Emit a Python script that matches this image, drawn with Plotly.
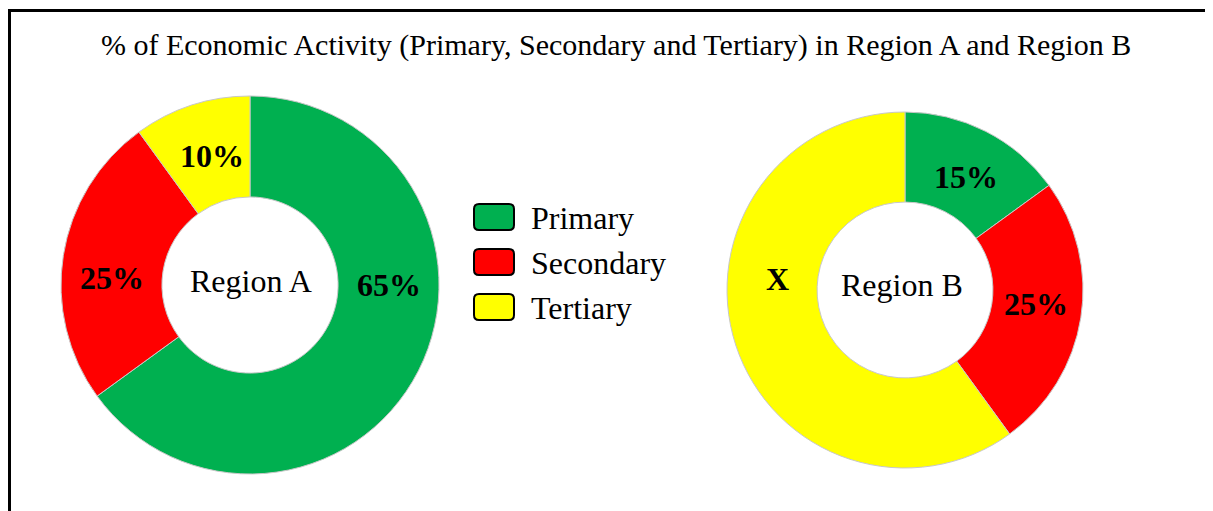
import plotly.graph_objects as go

# page body has an 8px margin; figure is sized and offset so coordinates map to window pixels
OFF = 8
W, H = 1213 - OFF, 511 - OFF

categories = ["Primary", "Secondary", "Tertiary"]
colors = ["#00B050", "#FF0000", "#FFFF00"]
region_a_values = [65, 25, 10]
region_b_values = [15, 25, 60]
region_a_labels = ["65%", "25%", "10%"]
region_b_labels = ["15%", "25%", "X"]
title_text = "% of Economic Activity (Primary, Secondary and Tertiary) in Region A and Region B"

FONT = "Liberation Serif, Times New Roman, serif"

def px_x(x):
    return (x - OFF) / W

def px_y(y):
    return 1 - (y - OFF) / H

fig = go.Figure()

# Region A donut: center (250,285), radius 189
fig.add_trace(go.Pie(
    labels=categories, values=region_a_values, sort=False, direction="clockwise",
    rotation=0, hole=0.466, textinfo="none", hoverinfo="label+percent",
    marker=dict(colors=colors, line=dict(color="#c8c8c8", width=1)),
    domain=dict(x=[px_x(61), px_x(439)], y=[px_y(474), px_y(96)]),
    showlegend=False,
))
# Region B donut: center (905,290), radius 178
fig.add_trace(go.Pie(
    labels=categories, values=region_b_values, sort=False, direction="clockwise",
    rotation=0, hole=0.494, textinfo="none", hoverinfo="label+percent",
    marker=dict(colors=colors, line=dict(color="#c8c8c8", width=1)),
    domain=dict(x=[px_x(727), px_x(1083)], y=[px_y(468), px_y(112)]),
    showlegend=False,
))

annotations = []
def ann(text, x, y, size, bold=False, xanchor="center"):
    annotations.append(dict(
        text=f"<b>{text}</b>" if bold else text, x=px_x(x), y=px_y(y),
        xref="paper", yref="paper", xanchor=xanchor, yanchor="middle",
        showarrow=False, font=dict(family=FONT, size=size, color="black"),
    ))

ann(title_text, 616, 45, 30)
ann("Region A", 251, 281, 32)
ann("Region B", 902, 285, 32)

label_pos_a = [(389, 285), (112, 278), (212, 156)]
for t, (x, y) in zip(region_a_labels, label_pos_a):
    ann(t, x, y, 32, bold=True)
label_pos_b = [(966, 177), (1036, 304), (778, 279)]
for t, (x, y) in zip(region_b_labels, label_pos_b):
    ann(t, x, y, 32, bold=True)

shapes = []
# custom legend with rounded boxes
legend_rows = [217, 262, 307]
r = 5
for cat, col, yc in zip(categories, colors, legend_rows):
    x0, x1 = 474, 514
    y0, y1 = yc - 13, yc + 13
    def P(x, y):
        return f"{px_x(x)},{px_y(y)}"
    path = (f"M {P(x0 + r, y0)} L {P(x1 - r, y0)} Q {P(x1, y0)} {P(x1, y0 + r)} "
            f"L {P(x1, y1 - r)} Q {P(x1, y1)} {P(x1 - r, y1)} "
            f"L {P(x0 + r, y1)} Q {P(x0, y1)} {P(x0, y1 - r)} "
            f"L {P(x0, y0 + r)} Q {P(x0, y0)} {P(x0 + r, y0)} Z")
    shapes.append(dict(type="path", xref="paper", yref="paper", path=path,
                       fillcolor=col, line=dict(color="black", width=2)))
    ann(cat, 529, yc + 1, 32, xanchor="left")

# outer frame (left and top edges)
shapes.append(dict(type="path", xref="paper", yref="paper",
                   path=f"M {px_x(9.5)},{px_y(530)} L {px_x(9.5)},{px_y(10.5)} L {px_x(1230)},{px_y(10.5)}",
                   line=dict(color="black", width=3)))

fig.update_layout(
    width=W, height=H, autosize=False,
    margin=dict(l=0, r=0, t=0, b=0),
    paper_bgcolor="white", plot_bgcolor="white",
    annotations=annotations, shapes=shapes,
    showlegend=False,
)

fig.write_html("out.html")
